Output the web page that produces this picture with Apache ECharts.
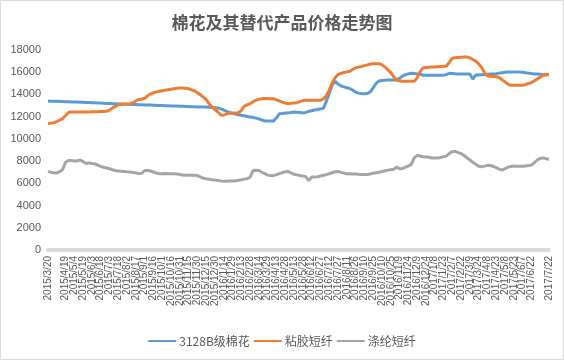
<!DOCTYPE html>
<html>
<head>
<meta charset="utf-8">
<script src="https://cdn.jsdelivr.net/npm/echarts@6/dist/echarts.min.js"></script>
<style>
html,body{margin:0;padding:0;background:#fff;}
#main{width:564px;height:360px;}
</style>
</head>
<body>
<div id="main"></div>
<script>
// Categories: every 5 days starting 2015/3/20 (labels shown every 15 days)
const startDate = '2015/3/20';
const stepDays = 5;
const pointCount = 172;

const seriesNames = ['3128B级棉花', '粘胶短纤', '涤纶短纤'];

const cotton = [
13400,13390,13380,13380,13370,13360,13350,13340,13330,13320,13310,
13300,13290,13280,13270,13260,13250,13240,13220,13200,13190,13180,
13170,13160,13150,13140,13130,13120,13110,13100,13090,13080,13070,13060,13050,13040,13030,13020,13010,13000,12990,12980,12970,12960,
12950,12940,12930,12920,12910,12900,12890,12880,12880,12870,12860,12840,12820,12800,12780,12700,12600,12480,12370,12300,12240,12180,12130,12080,12020,11970,11920,11870,11800,11700,11620,11600,11600,11620,11900,12270,
12290,12320,12340,12380,12420,12400,12370,12330,12380,12480,12540,12600,12650,12700,12750,13400,14100,14850,15180,14950,
14780,14680,14600,14530,14400,14200,14120,14080,14070,14100,14230,14600,15000,15220,15250,15280,15290,15300,15310,15330,
15450,15650,15780,15850,15900,15880,15850,15840,15730,15720,15720,15720,15720,15720,15730,15730,15800,15900,15880,15860,
15850,15840,15840,15830,15830,15380,15760,15750,15770,15790,15810,15830,15840,15870,15920,15960,16000,16020,16030,16030,
16030,16020,16000,15960,15920,15880,15850,15830,15810,15790,15780,15780
];

const viscose = [
11380,11420,11460,11560,11700,11820,12100,12380,12420,12420,12420,12430,12420,12420,12430,12440,12440,12450,12460,12470,
12480,12600,12790,12930,13060,13100,13120,13140,13160,13250,13420,13550,13590,13650,13880,14040,14150,14230,14290,14340,
14390,14430,14470,14510,14550,14580,14570,14550,14520,14420,14310,14160,13970,13760,13540,13150,12870,12640,12420,12150,
12130,12260,12300,12330,12340,12350,12550,12950,13060,13170,13340,13490,13560,13620,13630,13630,13620,13620,13520,13410,
13310,13220,13170,13200,13230,13260,13360,13450,13470,13470,13470,13470,13470,13470,13600,13880,14400,15050,15500,15800,
15900,15970,16030,16090,16250,16400,16460,16520,16590,16660,16740,16770,16770,16770,16660,16470,16220,15960,15600,15280,
15230,15190,15180,15180,15180,15180,15500,16050,16400,16420,16450,16470,16480,16500,16520,16540,16560,16900,17250,17300,
17320,17340,17360,17370,17300,17150,17000,16750,16440,15950,15650,15630,15610,15590,15520,15320,15130,14920,14820,14820,
14820,14820,14830,14900,14980,15070,15220,15400,15560,15720,15780,15810
];

const polyester = [
7080,7000,6950,6940,7050,7250,7900,8060,8050,8000,8010,8100,7950,7780,7840,7780,7760,7640,7530,7450,
7380,7310,7220,7150,7100,7080,7060,7040,7030,6980,6940,6890,6900,7160,7150,7110,7020,6930,6870,6870,
6880,6870,6870,6860,6850,6800,6740,6720,6720,6730,6720,6700,6580,6460,6410,6370,6330,6300,6260,6220,
6190,6180,6200,6220,6240,6270,6320,6380,6420,6550,7150,7180,7150,7000,6870,6740,6700,6690,6780,6880,
6960,7040,7060,6930,6810,6760,6700,6670,6590,6250,6560,6560,6600,6660,6720,6780,6860,6950,7040,7070,
6990,6920,6870,6860,6840,6830,6810,6800,6790,6790,6840,6900,6960,7000,7060,7130,7190,7230,7260,7470,
7320,7330,7450,7560,7700,8300,8520,8460,8400,8380,8340,8280,8290,8280,8330,8400,8460,8700,8850,8880,
8770,8680,8500,8300,8100,7900,7720,7540,7480,7550,7620,7600,7520,7420,7280,7180,7330,7460,7520,7560,
7540,7530,7540,7570,7600,7640,7850,8100,8240,8290,8220,8160
];

const yTicks = { min: 0, max: 18000, interval: 2000 };

// build category date strings
const categories = [];
(function(){
  const p = startDate.split('/').map(Number);
  const d = new Date(p[0], p[1]-1, p[2], 12);
  for (let i = 0; i < pointCount; i++) {
    categories.push(d.getFullYear() + '/' + (d.getMonth()+1) + '/' + d.getDate());
    d.setDate(d.getDate() + stepDays);
  }
})();

const colors = ['#5B9BD5', '#ED7D31', '#A5A5A5'];
const values = [cotton, viscose, polyester];

const chart = echarts.init(document.getElementById('main'), null, {renderer: 'canvas'});
chart.setOption({
  animation: false,
  backgroundColor: '#fff',
  color: colors,
  title: {
    text: '棉花及其替代产品价格走势图',
    left: 'center',
    top: 9,
    textStyle: {
      fontFamily: 'Noto Sans CJK SC',
      fontSize: 17,
      fontWeight: 'bold',
      color: '#595959'
    }
  },
  legend: {
    top: 330,
    left: 'center',
    itemWidth: 28,
    itemHeight: 12,
    itemGap: 4,
    icon: 'path://M0,5 L28,5 L28,7 L0,7 Z',
    textStyle: { fontFamily: 'Noto Sans CJK SC', fontSize: 12, color: '#595959', padding: [0,0,0,-2] },
    data: seriesNames
  },
  grid: { left: 48, right: 15, top: 50, bottom: 110, containLabel: false },
  xAxis: {
    type: 'category',
    data: categories,
    boundaryGap: false,
    axisLine: { lineStyle: { color: '#D9D9D9', width: 4 } },
    axisTick: { show: false },
    axisLabel: {
      interval: 2,
      rotate: 90,
      fontSize: 10,
      lineHeight: 7,
      margin: 6,
      color: '#595959',
      fontFamily: 'Liberation Sans',
      hideOverlap: false,
      showMinLabel: true,
      showMaxLabel: true
    },
    splitLine: { show: false }
  },
  yAxis: {
    type: 'value',
    min: yTicks.min,
    max: yTicks.max,
    interval: yTicks.interval,
    axisLine: { show: false },
    axisTick: { show: false },
    splitLine: { show: false },
    axisLabel: {
      fontSize: 11, color: '#595959', margin: 7, fontFamily: 'Liberation Sans',
      formatter: function (v) { return String(v); }
    }
  },
  series: seriesNames.map((name, k) => ({
    name: name,
    type: 'line',
    data: values[k],
    symbol: 'none',
    smooth: false,
    lineStyle: { width: 3, color: colors[k] },
    itemStyle: { color: colors[k] }
  })),
  graphic: [{
    type: 'rect',
    shape: { x: 0.5, y: 0.5, width: 563, height: 359 },
    style: { fill: 'none', stroke: '#D9D9D9', lineWidth: 1 },
    silent: true
  }]
});
</script>
</body>
</html>
